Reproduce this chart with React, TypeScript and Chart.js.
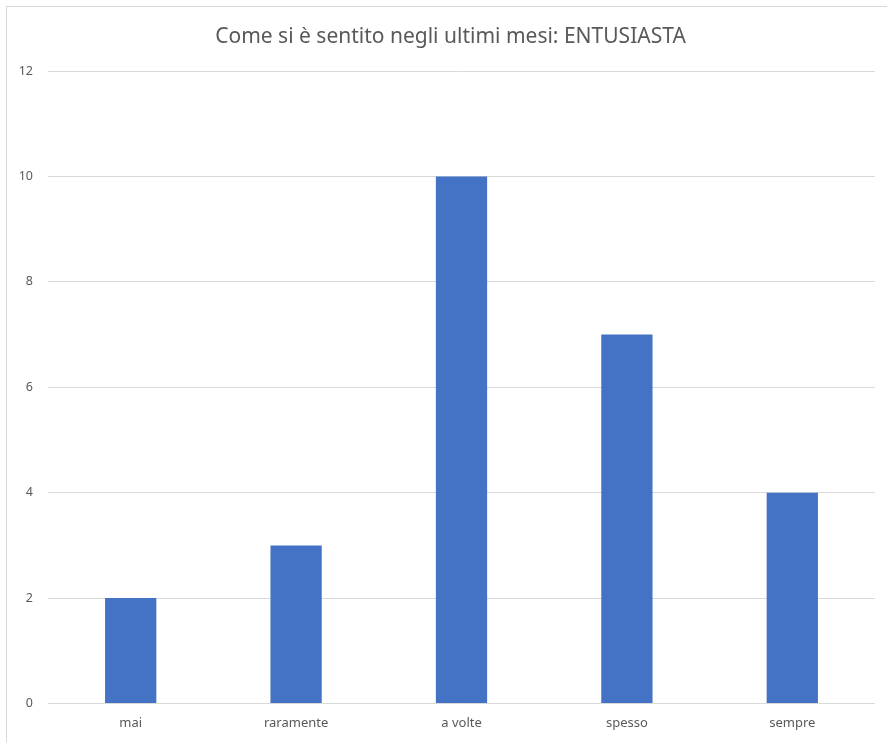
import React, { useEffect, useRef } from "react";
import { Chart, registerables } from "chart.js";

Chart.register(...registerables);

const categories = ["mai", "raramente", "a volte", "spesso", "sempre"];
const values = [2, 3, 10, 7, 4];
const titleText = "Come si è sentito negli ultimi mesi: ENTUSIASTA";
const yMin = 0;
const yMax = 12;
const yStep = 2;

const FONT = "'Noto Sans', 'Open Sans', sans-serif";

const titlePlugin = {
  id: "centeredTitle",
  afterDraw(chart: any) {
    const ctx = chart.ctx;
    ctx.save();
    ctx.font = `21px ${FONT}`;
    ctx.fillStyle = "#595959";
    ctx.textAlign = "center";
    ctx.textBaseline = "middle";
    ctx.fillText(titleText, 450.5, 37);
    ctx.restore();
  },
};

export default function App() {
  const ref = useRef<HTMLCanvasElement | null>(null);

  useEffect(() => {
    document.body.style.margin = "0";
    const canvas = ref.current;
    if (!canvas) return;
    const chart = new Chart(canvas, {
      type: "bar",
      data: {
        labels: categories,
        datasets: [
          {
            data: values,
            backgroundColor: "#4472c4",
            borderWidth: 0,
            barPercentage: 1,
            categoryPercentage: 0.31,
          },
        ],
      },
      options: {
        responsive: false,
        animation: false,
        layout: { padding: { left: 0, right: 12, top: 71, bottom: 0 } },
        plugins: {
          legend: { display: false },
          tooltip: { enabled: false },
          title: { display: false },
        },
        scales: {
          x: {
            grid: { display: false, drawTicks: false },
            border: { display: false },
            ticks: {
              color: "#595959",
              font: { family: FONT, size: 13 },
              padding: 12,
            },
            afterFit: (s: any) => {
              s.height = 38.5;
            },
          },
          y: {
            min: yMin,
            max: yMax,
            grid: { color: "#d9d9d9", lineWidth: 1, drawTicks: false },
            border: { display: false },
            ticks: {
              stepSize: yStep,
              color: "#595959",
              font: { family: FONT, size: 12.5 },
              padding: 15,
            },
            afterFit: (s: any) => {
              s.width = 48;
            },
          },
        },
      },
      plugins: [titlePlugin],
    });
    return () => chart.destroy();
  }, []);

  return (
    <div
      style={{
        position: "relative",
        width: 887,
        height: 742,
        overflow: "hidden",
        background: "#ffffff",
      }}
    >
      <div
        style={{
          position: "absolute",
          left: 6,
          top: 6,
          width: 1000,
          height: 1000,
          border: "1px solid #d9d9d9",
          boxSizing: "border-box",
        }}
      />
      <canvas
        ref={ref}
        width={887}
        height={742}
        style={{ position: "absolute", left: 0, top: 0 }}
      />
    </div>
  );
}
